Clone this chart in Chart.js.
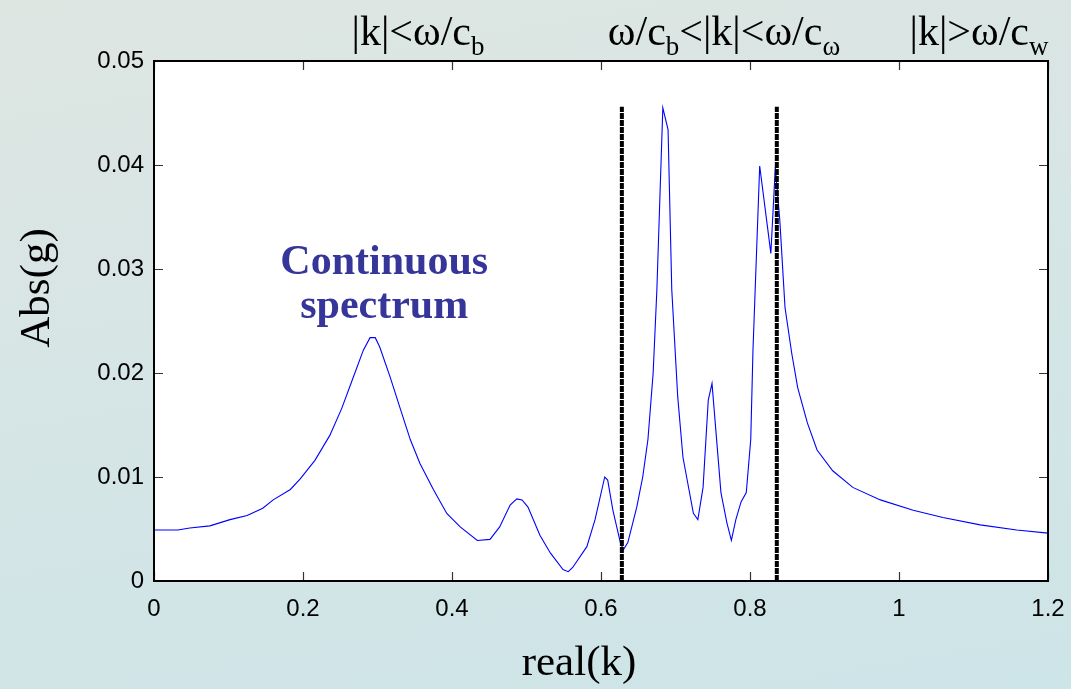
<!DOCTYPE html>
<html>
<head>
<meta charset="utf-8">
<script src="https://cdn.jsdelivr.net/npm/chart.js@4.4.0/dist/chart.umd.min.js"></script>
<style>
  html, body { margin: 0; padding: 0; }
  body {
    width: 1071px; height: 689px; overflow: hidden;
    background: linear-gradient(170deg, #dee6e2 0%, #d6e5e5 45%, #cde4e8 100%);
  }
  #wrap { width: 1071px; height: 689px; }
</style>
</head>
<body>
<div id="wrap"><canvas id="spectrumChart" width="1071" height="689"></canvas></div>
<script>
/* |g| against real(k), with the two branch boundaries marked */

const kValues = [
  0, 0.032, 0.048, 0.075, 0.102, 0.125, 0.146, 0.160, 0.183, 0.196,
  0.216, 0.236, 0.252, 0.267, 0.281, 0.290, 0.297, 0.303, 0.317, 0.330,
  0.344, 0.357, 0.375, 0.393, 0.411, 0.434, 0.451, 0.464, 0.478, 0.487,
  0.494, 0.502, 0.518, 0.532, 0.549, 0.556, 0.562, 0.581, 0.592, 0.605,
  0.609, 0.616, 0.626, 0.630, 0.636, 0.648, 0.656, 0.663, 0.670, 0.675,
  0.683, 0.690, 0.695, 0.703, 0.710, 0.724, 0.730, 0.737, 0.744, 0.749,
  0.761, 0.769, 0.775, 0.781, 0.788, 0.795, 0.801, 0.804, 0.813, 0.828,
  0.834, 0.840, 0.847, 0.856, 0.864, 0.877, 0.890, 0.911, 0.938, 0.975,
  1.019, 1.059, 1.109, 1.158, 1.2
];

const absG = [
  0.0049, 0.0049, 0.0051, 0.0053, 0.0059, 0.0063, 0.0070, 0.0078, 0.0088, 0.0098,
  0.0116, 0.0140, 0.0166, 0.0195, 0.0222, 0.0234, 0.0234, 0.0225, 0.0196, 0.0167,
  0.0136, 0.0113, 0.0088, 0.0065, 0.0052, 0.0039, 0.0040, 0.0052, 0.0073, 0.0079,
  0.0078, 0.0071, 0.0044, 0.0027, 0.0011, 0.0009, 0.0013, 0.0033, 0.0059, 0.0100,
  0.0097, 0.0068, 0.0037, 0.0030, 0.0037, 0.0071, 0.0100, 0.0136, 0.0200, 0.0280,
  0.0455, 0.0434, 0.0280, 0.0177, 0.0119, 0.0065, 0.0059, 0.0090, 0.0174, 0.0190,
  0.0085, 0.0056, 0.0039, 0.0059, 0.0076, 0.0085, 0.0136, 0.0222, 0.0399, 0.0315,
  0.0398, 0.0347, 0.0263, 0.0219, 0.0186, 0.0152, 0.0126, 0.0106, 0.0090, 0.0078,
  0.0068, 0.0061, 0.0054, 0.0049, 0.0046
];

// region boundaries |k| = w/c_b and |k| = w/c_w
const boundaryK = [0.628, 0.836];
const boundaryTop = 0.0456;

const xTicks = [0, 0.2, 0.4, 0.6, 0.8, 1, 1.2];
const yTicks = [0, 0.01, 0.02, 0.03, 0.04, 0.05];

// region labels above the plot: [text, subscript] pieces
const regionLabels = [
  { center: 418, parts: [['|k|<\u03c9/c', ''], ['b', 'sub']] },
  { center: 724, parts: [['\u03c9/c', ''], ['b', 'sub'], ['<|k|<\u03c9/c', ''], ['\u03c9', 'sub']] },
  { center: 979, parts: [['|k|>\u03c9/c', ''], ['w', 'sub']] }
];
const noteLines = ['Continuous', 'spectrum'];
const xTitle = 'real(k)';
const yTitle = 'Abs(g)';

const serif = '"Liberation Serif", "DejaVu Serif", serif';
const sans = '"Liberation Sans", Arial, sans-serif';

const framePlugin = {
  id: 'frame',
  beforeDraw(chart) {
    const { ctx, chartArea: a } = chart;
    ctx.save();
    ctx.fillStyle = '#ffffff';
    ctx.fillRect(a.left, a.top, a.right - a.left, a.bottom - a.top);
    ctx.restore();
  },
  afterDraw(chart) {
    const { ctx, chartArea: a, scales } = chart;
    ctx.save();
    // inward tick marks on all four sides
    ctx.strokeStyle = '#333';
    ctx.lineWidth = 1.2;
    const tl = 9;
    ctx.beginPath();
    xTicks.forEach((v) => {
      const px = Math.round(scales.x.getPixelForValue(v)) + 0.5;
      ctx.moveTo(px, a.bottom); ctx.lineTo(px, a.bottom - tl);
      ctx.moveTo(px, a.top); ctx.lineTo(px, a.top + tl);
    });
    yTicks.forEach((v) => {
      const py = Math.round(scales.y.getPixelForValue(v)) + 0.5;
      ctx.moveTo(a.left, py); ctx.lineTo(a.left + tl, py);
      ctx.moveTo(a.right, py); ctx.lineTo(a.right - tl, py);
    });
    ctx.stroke();

    // box
    ctx.strokeStyle = '#000';
    ctx.lineWidth = 2;
    ctx.strokeRect(a.left, a.top, a.right - a.left, a.bottom - a.top);

    // region labels
    const big = 42, small = 27;
    ctx.fillStyle = '#000';
    ctx.textBaseline = 'alphabetic';
    ctx.textAlign = 'left';
    regionLabels.forEach((lab) => {
      let w = 0;
      lab.parts.forEach(([t, kind]) => {
        ctx.font = `${kind ? small : big}px ${serif}`;
        w += ctx.measureText(t).width;
      });
      let x = lab.center - w / 2;
      lab.parts.forEach(([t, kind]) => {
        ctx.font = `${kind ? small : big}px ${serif}`;
        ctx.fillText(t, x, kind ? 55 : 45);
        x += ctx.measureText(t).width;
      });
    });

    // axis titles
    ctx.font = `43px ${serif}`;
    ctx.textAlign = 'center';
    ctx.textBaseline = 'middle';
    ctx.fillText(xTitle, 579, 664);
    ctx.save();
    ctx.translate(38, 288);
    ctx.rotate(-Math.PI / 2);
    ctx.fillText(yTitle, 0, 0);
    ctx.restore();

    // note on the broad peak
    ctx.fillStyle = '#35359a';
    ctx.font = `bold 42px ${serif}`;
    ctx.textAlign = 'center';
    ctx.textBaseline = 'alphabetic';
    const cx = scales.x.getPixelForValue(0.309);
    ctx.fillText(noteLines[0], cx, scales.y.getPixelForValue(0.0295));
    ctx.fillText(noteLines[1], cx, scales.y.getPixelForValue(0.0253));
    ctx.restore();
  }
};

const boundarySets = boundaryK.map((k) => ({
  data: [{ x: k, y: 0 }, { x: k, y: boundaryTop }],
  borderColor: '#000',
  borderWidth: 4,
  borderDash: [6, 1],
  pointRadius: 0,
  showLine: true
}));

const spectrumSet = {
  data: kValues.map((k, i) => ({ x: k, y: absG[i] })),
  borderColor: '#0000ff',
  borderWidth: 1.1,
  pointRadius: 0,
  showLine: true,
  tension: 0
};

function noPadding(s) {
  s.paddingLeft = 0; s.paddingRight = 0;
  s.paddingTop = 0; s.paddingBottom = 0;
}

const chart = new Chart(document.getElementById('spectrumChart'), {
  type: 'scatter',
  data: { datasets: [...boundarySets, spectrumSet] },
  options: {
    responsive: false,
    animation: false,
    layout: { padding: { top: 61, right: 23, bottom: 0, left: 0 } },
    plugins: { legend: { display: false }, tooltip: { enabled: false } },
    scales: {
      x: {
        type: 'linear',
        min: 0, max: 1.2,
        afterBuildTicks: (s) => { s.ticks = xTicks.map((v) => ({ value: v })); },
        afterFit: (s) => { s.height = 108; noPadding(s); },
        grid: { display: false, drawTicks: false },
        border: { display: false },
        ticks: {
          padding: 14, color: '#000', maxRotation: 0,
          font: { family: sans, size: 24 },
          callback: (v) => String(Math.round(v * 10) / 10)
        }
      },
      y: {
        type: 'linear',
        min: 0, max: 0.05,
        afterBuildTicks: (s) => { s.ticks = yTicks.map((v) => ({ value: v })); },
        afterFit: (s) => { s.width = 154; noPadding(s); },
        grid: { display: false, drawTicks: false },
        border: { display: false },
        ticks: {
          padding: 10, color: '#000',
          font: { family: sans, size: 24 },
          callback: (v) => (v === 0 ? '0' : v.toFixed(2))
        }
      }
    }
  },
  plugins: [framePlugin]
});
</script>
</body>
</html>
